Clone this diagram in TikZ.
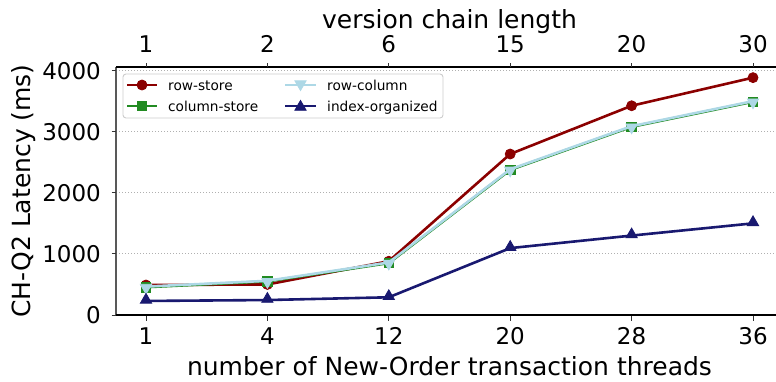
\documentclass[tikz,border=0pt]{standalone}
\usepackage{fontspec}
\setmainfont{DejaVu Sans}
\usetikzlibrary{shapes.geometric,calc}

\definecolor{rowstore}{HTML}{8B0000}
\definecolor{colstore}{HTML}{228B22}
\definecolor{rowcol}{HTML}{ADD8E6}
\definecolor{idxorg}{HTML}{191970}
\definecolor{gridgray}{HTML}{B0B0B0}
\definecolor{legedge}{HTML}{CCCCCC}

\tikzset{
  series/.style={line width=2.6pt, line join=round, line cap=round},
  mk/.style={inner sep=0pt, outer sep=0pt, line width=0.8pt},
  mkcircle/.style={mk, circle, minimum size=10pt, draw=#1, fill=#1},
  mksquare/.style={mk, rectangle, minimum size=9.5pt, draw=#1, fill=#1},
  mkup/.style={mk, regular polygon, regular polygon sides=3, minimum size=13pt, draw=#1, fill=#1},
  mkdown/.style={mk, regular polygon, regular polygon sides=3, shape border rotate=180, minimum size=13pt, draw=#1, fill=#1},
  gridline/.style={gridgray, line width=0.9pt, dash pattern=on 1pt off 2pt},
  ticklab/.style={font=\fontsize{23}{23}\selectfont, inner sep=0pt},
  axlab/.style={font=\fontsize{25}{25}\selectfont, inner sep=0pt},
  leglab/.style={font=\fontsize{13.7}{14}\selectfont, inner sep=0pt, anchor=base west},
  tickmark/.style={black!80, line width=0.9pt},
}

\begin{document}
\begin{tikzpicture}[x=1pt, y=-1pt,
  declare function={xi(\i)=146+121.4*\i; yv(\v)=315-0.0611*\v;}]
\useasboundingbox (0,0) rectangle (776,381);

% horizontal grid
\foreach \v in {1000,2000,3000,4000}
  \draw[gridline] (116,{yv(\v)}) -- (776,{yv(\v)});

% row-store
\foreach \i/\v in {0/491,1/500,2/880,3/2635,4/3425,5/3885}
  \coordinate (rs\i) at ({xi(\i)},{yv(\v)});
\draw[series, rowstore] (rs0) -- (rs1) -- (rs2) -- (rs3) -- (rs4) -- (rs5);
\foreach \i in {0,...,5} \node[mkcircle=rowstore] (rsm\i) at (rs\i) {};

% column-store
\foreach \i/\v in {0/455,1/550,2/850,3/2375,4/3080,5/3490}
  \coordinate (cs\i) at ({xi(\i)},{yv(\v)});
\draw[series, colstore] (cs0) -- (cs1) -- (cs2) -- (cs3) -- (cs4) -- (cs5);
\foreach \i in {0,...,5} \node[mksquare=colstore] (csm\i) at (cs\i) {};

% row-column
\foreach \i/\v in {0/465,1/560,2/860,3/2385,4/3090,5/3500}
  \coordinate (rc\i) at ({xi(\i)},{yv(\v)});
\draw[series, rowcol] (rc0) -- (rc1) -- (rc2) -- (rc3) -- (rc4) -- (rc5);
\foreach \i in {0,...,5} \node[mkdown=rowcol] (rcm\i) at ([yshift=-1pt]rc\i) {};

% index-organized
\foreach \i/\v in {0/230,1/245,2/290,3/1095,4/1300,5/1500}
  \coordinate (io\i) at ({xi(\i)},{yv(\v)});
\draw[series, idxorg] (io0) -- (io1) -- (io2) -- (io3) -- (io4) -- (io5);
\foreach \i in {0,...,5} \node[mkup=idxorg] (iom\i) at ([yshift=1pt]io\i) {};

% spines
\draw[black!65, line width=1.3pt] (116,67) -- (116,315);
\draw[black, line width=1.2pt] (116,67) -- (776,67);
\draw[black, line width=2.6pt] (116,315) -- (776,315);

% y ticks and labels
\foreach \v in {0,1000,2000,3000,4000} {
  \draw[tickmark] (111.5,{yv(\v)}) -- (116,{yv(\v)});
  \node[ticklab, anchor=base east] (yl\v) at (101,{yv(\v)+8.4}) {\v};
}

% bottom and top ticks and labels
\foreach \i/\b/\t in {0/1/1,1/4/2,2/12/6,3/20/15,4/28/20,5/36/30} {
  \draw[tickmark] ({xi(\i)},316) -- ({xi(\i)},320.5);
  \draw[tickmark] ({xi(\i)},67) -- ({xi(\i)},62.5);
  \node[ticklab, anchor=base] (bl\i) at ({xi(\i)},344) {\b};
  \node[ticklab, anchor=base] (tl\i) at ({xi(\i)},52) {\t};
}

% axis labels
\node[axlab, anchor=base] (xlabel) at (449.5,375) {number of New-Order transaction threads};
\node[axlab, anchor=base] (x2label) at (449.5,28) {version chain length};
\node[axlab, anchor=base, rotate=90] (ylabel) at (30,191) {CH-Q2 Latency (ms)};

% legend
\draw[legedge, fill=white, line width=0.9pt, rounded corners=3pt] (123,74) rectangle (443,118);
\coordinate (l1a) at (127,85);  \coordinate (l1b) at (157,85);
\coordinate (l2a) at (127,106); \coordinate (l2b) at (157,106);
\coordinate (l3a) at (285,85);  \coordinate (l3b) at (316,85);
\coordinate (l4a) at (285,106); \coordinate (l4b) at (316,106);
\draw[series, line cap=butt, rowstore] (l1a) -- (l1b);
\node[mkcircle=rowstore] (lm1) at ($(l1a)!0.5!(l1b)$) {};
\draw[series, line cap=butt, colstore] (l2a) -- (l2b);
\node[mksquare=colstore] (lm2) at ($(l2a)!0.5!(l2b)$) {};
\draw[series, line cap=butt, rowcol] (l3a) -- (l3b);
\node[mkdown=rowcol] (lm3) at ($(l3a)!0.5!(l3b)+(0,-1)$) {};
\draw[series, line cap=butt, idxorg] (l4a) -- (l4b);
\node[mkup=idxorg] (lm4) at ($(l4a)!0.5!(l4b)+(0,1)$) {};
\node[leglab] (lt1) at (168,90) {row-store};
\node[leglab] (lt2) at (168,111) {column-store};
\node[leglab] (lt3) at (327,90) {row-column};
\node[leglab] (lt4) at (327,111) {index-organized};
\end{tikzpicture}
\end{document}
